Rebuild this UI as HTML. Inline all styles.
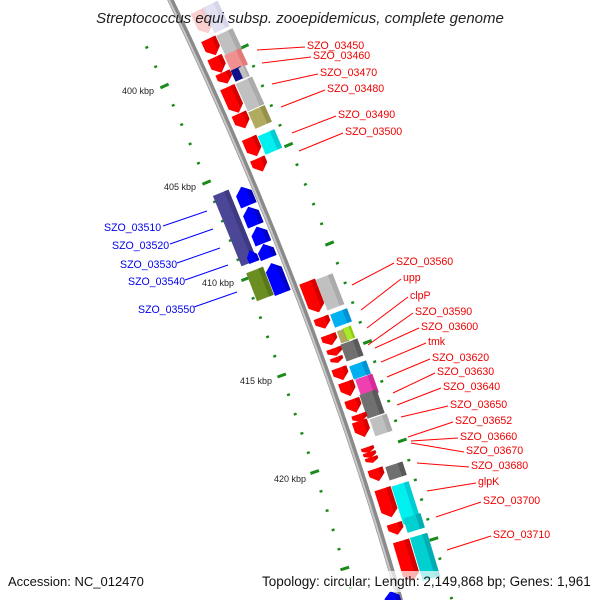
<!DOCTYPE html>
<html><head><meta charset="utf-8"><style>
html,body{margin:0;padding:0;background:#fff;}
svg{display:block;}
text{font-family:"Liberation Sans",sans-serif;}
</style></head><body>
<svg id="s" width="600" height="600" xmlns="http://www.w3.org/2000/svg">
<rect width="600" height="600" fill="#fff"/>
<g id="dots"></g>
<g id="axis"></g>
<g id="genes"></g>
<g id="lines" stroke-width="1"></g>
<text x="300" y="23" text-anchor="middle" font-size="15" font-style="italic" fill="#222">Streptococcus equi subsp. zooepidemicus, complete genome</text>
<g font-size="9" fill="#222">
<text x="122" y="94">400 kbp</text>
<text x="164" y="190">405 kbp</text>
<text x="202" y="286">410 kbp</text>
<text x="240" y="384">415 kbp</text>
<text x="274" y="482">420 kbp</text>
</g>
<g font-size="10.6" fill="#e00" id="rlab"></g>
<g font-size="10.6" fill="#00e">
<text x="104" y="231">SZO_03510</text>
<text x="112" y="249">SZO_03520</text>
<text x="120" y="268">SZO_03530</text>
<text x="128" y="285">SZO_03540</text>
<text x="138" y="313">SZO_03550</text>
</g>
<rect x="255" y="571" width="343" height="21" fill="#fff" opacity="0.7"/>
<text x="8" y="586" font-size="13" fill="#111">Accession: NC_012470</text>
<text x="262" y="586" font-size="13.5" fill="#111">Topology: circular; Length: 2,149,868 bp; Genes: 1,961</text>
</svg>
<script>
var NS="http://www.w3.org/2000/svg";
function xa(y){return 170.5+0.479*y-0.000161*y*y;}
function ang(y){return Math.atan(0.479-0.000322*y)*180/Math.PI;}
function el(p,tag,a){var e=document.createElementNS(NS,tag);for(var k in a)e.setAttribute(k,a[k]);p.appendChild(e);return e;}
var pts=[],pts2=[];
for(var y=-10;y<=612;y+=6){pts.push(xa(y).toFixed(1)+","+y);pts2.push((xa(y)-1.5).toFixed(1)+","+y);}
var ax=document.getElementById("axis");
el(ax,"polyline",{points:pts.join(" "),fill:"none",stroke:"#8a8a8a","stroke-width":6});
el(ax,"polyline",{points:pts2.join(" "),fill:"none",stroke:"#c8c8c8","stroke-width":2});
var dg=document.getElementById("dots");
function dash(X,Y,major){var a=ang(Y);var g=el(dg,"g",{transform:"translate("+X.toFixed(1)+","+Y.toFixed(1)+") rotate("+(-a).toFixed(1)+")"});
 if(major)el(g,"rect",{x:-1.5,y:-4.5,width:3,height:9,fill:"#1a8a1a",transform:"rotate(90)"});
 else el(g,"rect",{x:-1.5,y:-1.2,width:3,height:2.4,fill:"#1a8a1a"});}
for(var k=-5;k<30;k++){var y=86+19.3*k;if(y<30||y>600)continue;dash(xa(y)-46,y,k%5==0);}
for(var k=-8;k<30;k++){var y=145+19.7*k;if(y<30||y>600)continue;dash(xa(y)+52,y,k%5==0);}
var gg=document.getElementById("genes");
function gene(X,Y,L,W,col,type,dark,op){
 W=W*1.2;
 var a=ang(Y);var g=el(gg,"g",{transform:"translate("+X+","+Y+") rotate("+(-a).toFixed(1)+")"});
 if(op)g.setAttribute("opacity",op);
 var h=Math.min(7,L/2),w=W/2,l=L/2,p;
 if(type=="d")p=[[-w,-l],[w,-l],[w,l-h],[0,l],[-w,l-h]];
 else if(type=="u")p=[[-w,l],[w,l],[w,-l+h],[0,-l],[-w,-l+h]];
 else p=[[-w,-l],[w,-l],[w,l],[-w,l]];
 el(g,"polygon",{points:p.map(function(q){return q.join(",")}).join(" "),fill:col});
 var s=w*0.45,q;
 if(type=="d")q=[[s,-l],[w,-l],[w,l-h],[0,l],[s,l-h*(1-s/w)]];
 else if(type=="u")q=[[s,l],[w,l],[w,-l+h],[0,-l],[s,-l+h*(1-s/w)]];
 else q=[[s,-l],[w,-l],[w,l],[s,l]];
 el(g,"polygon",{points:q.map(function(z){return z.join(",")}).join(" "),fill:dark,opacity:0.9});
}
var R="#ff0000",RD="#d00000";
var G=[
[203,22,25,13,"#f6b0b0","d","#eaa0a0",0.6],[216,17,28,14,"#dcdcf0","b","#c8c8e4",0.8],
[212,47,18,13,R,"d",RD],[218,65,17,13,R,"d",RD],[225,78,12,13,R,"d",RD],[233,100,28,13,R,"d",RD],
[242,121,16,13,R,"d",RD],[253,147,20,13,R,"d",RD],[260,165,14,13,R,"d",RD],
[229,42,22,15,"#c0c0c0","b","#a8a8a8"],[236,60,18,15,"#f09090","b","#e07878"],[238,74,12,9,"#10108a","b","#000060"],
[244,72,12,6,"#c0c0c0","b","#aaa"],[250,94,30,15,"#c0c0c0","b","#a8a8a8"],[260,117,18,15,"#b0ab60","b","#958f48"],[270,142,20,15,"#00f0f0","b","#00c8d0"],
[235,228,76,14,"#4b4796","b","#3c3880"],[245,196,20,14,"#0000ff","u","#0000c0"],[252,216,20,14,"#0000ff","u","#0000c0"],
[260,235,18,14,"#0000ff","u","#0000c0"],[266,251,15,14,"#0000ff","u","#0000c0"],[252,256,13,9,"#0000ff","u","#0000c0"],
[260,284,30,15,"#6b8e23","b","#587518"],[277,278,32,14,"#0000ff","u","#0000c0"],
[313,297,33,14,R,"d",RD],[330,292,33,15,"#c0c0c0","b","#a8a8a8"],[323,323,12,13,R,"d",RD],[341,318,14,15,"#00b0f0","b","#0090d0"],
[330,340,11,13,R,"d",RD],[343,336,13,7,"#b0ab60","b","#958f48"],[349,333,13,7,"#a8e828","b","#88c810"],
[335,352,8,13,R,"d",RD],[337,360,6,11,R,"d",RD],[352,350,18,15,"#707070","b","#585858"],
[341,374,13,13,R,"d",RD],[360,370,14,15,"#00b0f0","b","#0090d0"],[348,389,15,13,R,"d",RD],[367,386,20,15,"#f040b0","b","#d02898"],
[354,406,14,13,R,"d",RD],[372,404,25,15,"#707070","b","#585858"],[360,418,8,13,R,"d",RD],[362,429,17,13,R,"d",RD],
[381,425,18,15,"#c0c0c0","b","#a8a8a8"],[368,450,6,11,R,"d",RD],[370,455,6,11,R,"d",RD],[372,460,6,11,R,"d",RD],
[396,471,14,15,"#707070","b","#585858"],[377,475,13,13,R,"d",RD],[406,503,40,15,"#00f0f0","b","#00c8d0"],[387,503,30,14,R,"d",RD],
[414,523,15,15,"#00d0d0","b","#00a8b0"],[396,529,12,13,R,"d",RD],[425,557,45,15,"#00d0d0","b","#00a8b0"],[407,561,42,14,R,"d",RD],
[392,597,12,13,"#0000ff","u","#0000c0"]
];
G.forEach(function(x){gene(x[0],x[1],x[2],x[3],x[4],x[5],x[6],x[7]);});
var lg=document.getElementById("lines"),rl=document.getElementById("rlab");
var L=[["SZO_03450",307,45,257,50],["SZO_03460",313,55,262,63],["SZO_03470",320,72,272,84],["SZO_03480",327,88,281,107],
["SZO_03490",338,114,292,133],["SZO_03500",345,131,299,151],["SZO_03560",396,261,352,285],["upp",403,277,361,310],
["clpP",410,295,367,328],["SZO_03590",415,311,368,345],["SZO_03600",421,326,375,348],["tmk",428,341,381,362],
["SZO_03620",432,357,387,377],["SZO_03630",437,371,393,393],["SZO_03640",443,386,397,405],["SZO_03650",450,404,401,417],
["SZO_03652",455,420,408,437],["SZO_03660",460,436,411,441],["SZO_03670",466,450,411,443],["SZO_03680",471,465,417,463],
["glpK",478,481,427,491],["SZO_03700",483,500,436,517],["SZO_03710",493,534,447,550]];
L.forEach(function(a){el(lg,"line",{x1:a[3],y1:a[4],x2:a[1]-2,y2:a[2]+2,stroke:"#f00"});var t=el(rl,"text",{x:a[1],y:a[2]+4});t.textContent=a[0];});
[[163,226,207,211],[170,244,213,229],[177,263,220,248],[185,280,228,265],[194,307,237,292]].forEach(function(a){el(lg,"line",{x1:a[0],y1:a[1],x2:a[2],y2:a[3],stroke:"#00f"});});
</script>
</body></html>
